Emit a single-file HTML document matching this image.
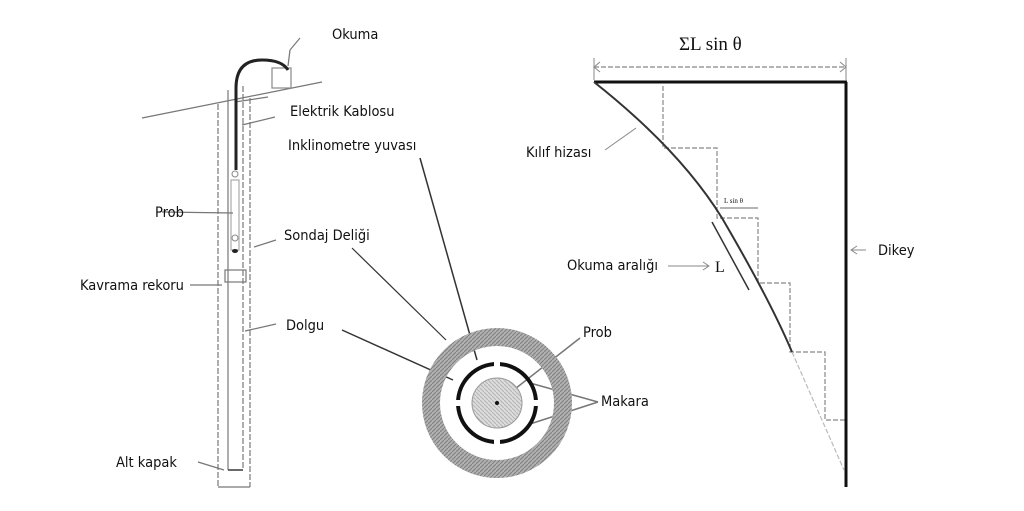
<!DOCTYPE html>
<html><head><meta charset="utf-8"><style>
html,body{margin:0;padding:0;background:#fff;width:1024px;height:511px;overflow:hidden}
svg text{font-family:"DejaVu Sans Condensed","DejaVu Sans","Liberation Sans",sans-serif;font-size:14.5px;fill:#111}
</style></head><body>
<svg width="1024" height="511" viewBox="0 0 1024 511" xmlns="http://www.w3.org/2000/svg">
<defs>
<pattern id="hatch" width="4" height="4" patternUnits="userSpaceOnUse"><rect width="4" height="4" fill="#b0b0b0"/><path d="M0 4L4 0" stroke="#808080" stroke-width="1"/></pattern>
<pattern id="hatch2" width="4" height="4" patternUnits="userSpaceOnUse"><rect width="4" height="4" fill="#dcdcdc"/><path d="M0 0L4 4" stroke="#b4b4b4" stroke-width="1"/></pattern>
</defs>
<!-- LEFT FIGURE -->
<g stroke="#777" fill="none" stroke-width="1.2">
<line x1="142" y1="118" x2="322" y2="82"/>
<rect x="272" y="68" width="19" height="20" stroke="#888"/>
<line x1="218" y1="104" x2="218" y2="487" stroke-dasharray="6,2"/>
<line x1="250" y1="98" x2="250" y2="487" stroke-dasharray="6,2"/>
<line x1="228" y1="90" x2="228" y2="470"/>
<line x1="243" y1="86" x2="243" y2="470" stroke-dasharray="6,2"/>
<line x1="218" y1="487" x2="250" y2="487"/>
<line x1="228" y1="470" x2="243" y2="470" stroke="#444" stroke-width="1.6"/>
<rect x="225" y="270" width="21" height="12"/>
<rect x="231" y="180" width="8" height="70" stroke="#aaa"/>
<line x1="162" y1="212" x2="233" y2="213"/>
<line x1="268" y1="97" x2="235" y2="102"/>
<line x1="275" y1="117" x2="242" y2="125"/>
<line x1="276" y1="240" x2="254" y2="247"/>
<line x1="190" y1="285" x2="222" y2="285"/>
<line x1="276" y1="324" x2="245" y2="331"/>
<line x1="198" y1="462" x2="224" y2="470"/>
<line x1="300" y1="38" x2="290" y2="50"/>
<line x1="290" y1="50" x2="288" y2="66"/>
</g>
<path d="M236 170 L236 88 Q236 60 262 60 Q282 60 288 70" stroke="#222" stroke-width="3" fill="none"/>
<circle cx="235" cy="174" r="3" fill="none" stroke="#888"/>
<circle cx="235" cy="238" r="3" fill="none" stroke="#888"/>
<ellipse cx="235" cy="251" rx="3" ry="2" fill="#222"/>
<text x="332" y="39">Okuma</text>
<text x="290" y="116">Elektrik Kablosu</text>
<text x="288" y="150">Inklinometre yuvası</text>
<text x="155" y="217">Prob</text>
<text x="284" y="240">Sondaj  Deliği</text>
<text x="80" y="290">Kavrama rekoru</text>
<text x="286" y="330">Dolgu</text>
<text x="116" y="467">Alt kapak</text>
<!-- MIDDLE CIRCLE -->
<g stroke="#333" stroke-width="1.5" fill="none">
<line x1="420" y1="158" x2="477" y2="360"/>
<line x1="352" y1="248" x2="446" y2="340" stroke-width="1.2"/>
<line x1="342" y1="330" x2="453" y2="380"/>
<line x1="580" y1="338" x2="497" y2="403" stroke="#777"/>
<line x1="598" y1="402" x2="530" y2="383" stroke="#777"/>
<line x1="598" y1="402" x2="530" y2="424" stroke="#777"/>
</g>
<circle cx="497" cy="403" r="66" fill="none" stroke="url(#hatch)" stroke-width="18"/>
<circle cx="497" cy="403" r="39" fill="none" stroke="#111" stroke-width="4"/>
<circle cx="497" cy="403" r="25" fill="url(#hatch2)" stroke="#999"/>
<g fill="#fff"><rect x="494" y="361" width="6" height="6"/><rect x="494" y="439" width="6" height="6"/><rect x="455" y="400" width="6" height="6"/><rect x="533" y="400" width="6" height="6"/></g>
<circle cx="497" cy="403" r="2" fill="#111"/>
<text x="583" y="337">Prob</text>
<text x="601" y="406">Makara</text>
<!-- RIGHT FIGURE -->
<g stroke="#888" fill="none" stroke-width="1.2" stroke-dasharray="5,2">
<line x1="594" y1="67" x2="846" y2="67"/>
<polyline points="663,86 663,148 717,148 717,218 758,218 758,283 790,283 790,352 825,352 825,420 845,420"/>
<line x1="720" y1="208" x2="758" y2="208" stroke-dasharray="none"/>
<line x1="792" y1="352" x2="844" y2="470" stroke="#bbb"/>
</g>
<g stroke="#888" fill="none" stroke-width="1">
<line x1="594" y1="58" x2="594" y2="80"/><line x1="846" y1="58" x2="846" y2="80"/>
<path d="M600 62 L594 67 L600 72 M840 62 L846 67 L840 72"/>
<line x1="605" y1="150" x2="636" y2="128"/>
<line x1="668" y1="266" x2="708" y2="266"/><path d="M703 262 L709 266 L703 270"/>
<line x1="866" y1="250" x2="852" y2="250"/><path d="M857 246 L851 250 L857 254"/>
</g>
<line x1="594" y1="82" x2="847" y2="82" stroke="#111" stroke-width="3"/>
<line x1="846" y1="82" x2="846" y2="487" stroke="#111" stroke-width="3"/>
<path d="M594 82 Q680 150 722 218 Q770 300 792 352" stroke="#333" stroke-width="2" fill="none"/>
<line x1="712" y1="222" x2="749" y2="290" stroke="#333" stroke-width="1.5"/>
<text x="679" y="50" style="font-family:'Liberation Serif',serif;font-size:19px">ΣL sin θ</text>
<text x="724" y="203" style="font-family:'Liberation Serif',serif;font-size:7px">L sin θ</text>
<text x="715" y="272" style="font-family:'Liberation Serif',serif;font-size:16px">L</text>
<text x="526" y="157">Kılıf hizası</text>
<text x="567" y="270">Okuma aralığı</text>
<text x="878" y="255">Dikey</text>
</svg>
</body></html>
